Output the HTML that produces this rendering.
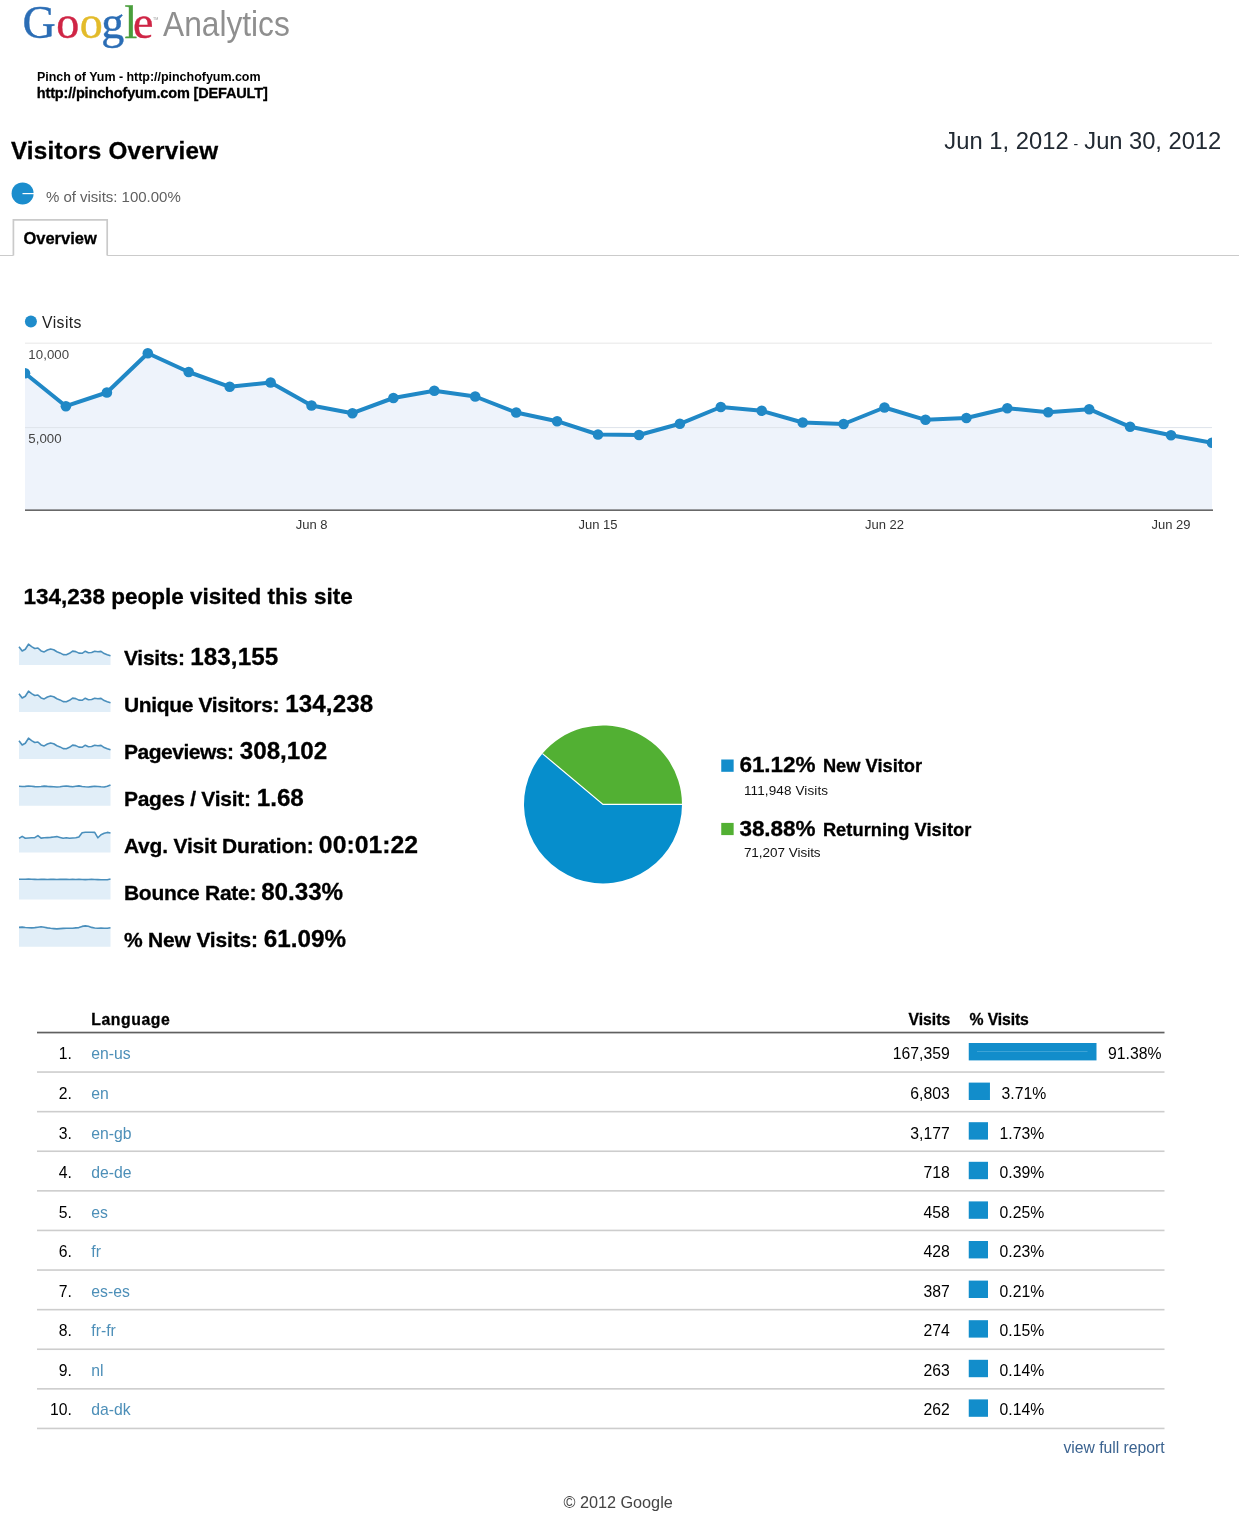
<!DOCTYPE html>
<html lang="en"><head><meta charset="utf-8"><title>Visitors Overview - Google Analytics</title>
<style>
html,body{margin:0;padding:0;background:#fff}
body{width:1239px;height:1515px;position:relative;overflow:hidden;font-family:"Liberation Sans",Arial,Helvetica,sans-serif;color:#000}
.t{position:absolute;white-space:pre;line-height:1}
.abs{position:absolute}
.logo{font-family:"Liberation Serif","Times New Roman",serif}
</style></head><body>
<header>
<!-- logo -->
<div class="t logo" style="left:22.6px;top:0.4px;font-size:46px;-webkit-text-stroke:0.4px currentColor"><span style="color:#2b6db5;letter-spacing:0.35px">G</span><span style="color:#cf2545;letter-spacing:0.45px">o</span><span style="color:#e3bb2a;letter-spacing:-1.45px">o</span><span style="color:#2b6db5;letter-spacing:0.35px">g</span><span style="color:#4a9e3c;letter-spacing:-4.4px">l</span><span style="color:#cf2545">e</span></div>
<span class="t" style="left:153px;top:17.8px;font-size:3.6px;color:#999">TM</span>
<span class="t" style="left:163px;top:10.3px;font-size:31.7px;color:#8f8f8f;transform:scaleY(1.09);transform-origin:0 26.58px">Analytics</span>
<!-- profile / report title / date range / segment / tab -->
<svg class="abs" style="left:8px;top:180px" width="30" height="26" viewBox="8 180 30 26"><circle cx="22.6" cy="193.4" r="11" fill="#1b8dcd"/><rect x="22.5" y="193" width="11.5" height="1.2" fill="#fff"/></svg>
<div class="abs" style="left:0;top:254.9px;width:1239px;height:1.5px;background:#cbcbcb"></div>
<svg class="abs" style="left:0;top:210px" width="130" height="50" viewBox="0 210 130 50"><path d="M13.4,256.6 L13.4,219.9 L107.2,219.9 L107.2,256.3 Z" fill="#fff"/><path d="M13.4,255.6 L13.4,219.9 L107.2,219.9 L107.2,255.6" fill="none" stroke="#cacaca" stroke-width="1.7"/></svg>
<span class="t" style="left:36.90px;top:70.50px;font-size:12.5px;font-weight:700;letter-spacing:-0.031px;">Pinch of Yum - http://pinchofyum.com</span>
<span class="t" style="left:36.77px;top:86.00px;font-size:14.5px;font-weight:700;-webkit-text-stroke:0.3px;letter-spacing:-0.159px;">http://pinchofyum.com [DEFAULT]</span>
<span class="t" style="left:10.88px;top:139.00px;font-size:24.25px;font-weight:700;-webkit-text-stroke:0.3px;letter-spacing:0.260px;">Visitors Overview</span>
<span class="t" style="left:944.34px;top:129.25px;font-size:23.75px;color:#222a33;letter-spacing:0.021px;">Jun 1, 2012</span>
<span class="t" style="left:1073.50px;top:137.25px;font-size:14px;color:#222a33;">-</span>
<span class="t" style="left:1084.34px;top:129.25px;font-size:23.75px;color:#222a33;letter-spacing:-0.046px;">Jun 30, 2012</span>
<span class="t" style="left:45.95px;top:189.00px;font-size:15px;color:#606060;letter-spacing:-0.015px;">% of visits: 100.00%</span>
<span class="t" style="left:23.44px;top:229.80px;font-size:16.5px;font-weight:700;-webkit-text-stroke:0.3px;letter-spacing:-0.009px;">Overview</span>
</header>
<main>
<section id="visits-chart">
<svg class="abs" style="left:0;top:300px" width="1239" height="230" viewBox="0 300 1239 230">
<defs><clipPath id="cc"><rect x="25" y="330" width="1187" height="185"/></clipPath></defs>
<circle cx="30.9" cy="321.4" r="6" fill="#1f8ccb"/>
<g clip-path="url(#cc)">
<path d="M25.0,510 L25.0,373.2 L65.9,406.2 L106.9,392.5 L147.8,353.2 L188.7,372.0 L229.7,386.8 L270.6,382.5 L311.5,405.5 L352.4,413.2 L393.4,398.0 L434.3,390.8 L475.2,396.5 L516.2,412.5 L557.1,421.2 L598.0,434.5 L639.0,435.0 L679.9,423.8 L720.8,407.0 L761.7,410.8 L802.7,422.5 L843.6,424.0 L884.5,407.5 L925.5,419.8 L966.4,418.0 L1007.3,408.2 L1048.2,412.2 L1089.2,409.2 L1130.1,426.8 L1171.0,435.2 L1212.0,442.8 L1212.0,510 Z" fill="#eef3fb"/>
<rect x="25" y="342.6" width="1188" height="1.2" fill="#ebebeb"/>
<rect x="25" y="427" width="1188" height="1.1" fill="#e0e5ec"/>
<polyline points="25.0,373.2 65.9,406.2 106.9,392.5 147.8,353.2 188.7,372.0 229.7,386.8 270.6,382.5 311.5,405.5 352.4,413.2 393.4,398.0 434.3,390.8 475.2,396.5 516.2,412.5 557.1,421.2 598.0,434.5 639.0,435.0 679.9,423.8 720.8,407.0 761.7,410.8 802.7,422.5 843.6,424.0 884.5,407.5 925.5,419.8 966.4,418.0 1007.3,408.2 1048.2,412.2 1089.2,409.2 1130.1,426.8 1171.0,435.2 1212.0,442.8" fill="none" stroke="#2088c6" stroke-width="4" stroke-linejoin="round"/>
<g fill="#2088c6"><circle cx="25.0" cy="373.2" r="5.3"/><circle cx="65.9" cy="406.2" r="5.3"/><circle cx="106.9" cy="392.5" r="5.3"/><circle cx="147.8" cy="353.2" r="5.3"/><circle cx="188.7" cy="372.0" r="5.3"/><circle cx="229.7" cy="386.8" r="5.3"/><circle cx="270.6" cy="382.5" r="5.3"/><circle cx="311.5" cy="405.5" r="5.3"/><circle cx="352.4" cy="413.2" r="5.3"/><circle cx="393.4" cy="398.0" r="5.3"/><circle cx="434.3" cy="390.8" r="5.3"/><circle cx="475.2" cy="396.5" r="5.3"/><circle cx="516.2" cy="412.5" r="5.3"/><circle cx="557.1" cy="421.2" r="5.3"/><circle cx="598.0" cy="434.5" r="5.3"/><circle cx="639.0" cy="435.0" r="5.3"/><circle cx="679.9" cy="423.8" r="5.3"/><circle cx="720.8" cy="407.0" r="5.3"/><circle cx="761.7" cy="410.8" r="5.3"/><circle cx="802.7" cy="422.5" r="5.3"/><circle cx="843.6" cy="424.0" r="5.3"/><circle cx="884.5" cy="407.5" r="5.3"/><circle cx="925.5" cy="419.8" r="5.3"/><circle cx="966.4" cy="418.0" r="5.3"/><circle cx="1007.3" cy="408.2" r="5.3"/><circle cx="1048.2" cy="412.2" r="5.3"/><circle cx="1089.2" cy="409.2" r="5.3"/><circle cx="1130.1" cy="426.8" r="5.3"/><circle cx="1171.0" cy="435.2" r="5.3"/><circle cx="1212.0" cy="442.8" r="5.3"/></g>
</g>
<rect x="25" y="509.5" width="1188" height="1.3" fill="#444"/>
</svg>
<span class="t" style="left:42.00px;top:314.60px;font-size:15.75px;color:#222;letter-spacing:0.428px;">Visits</span>
<span class="t" style="left:28.35px;top:347.75px;font-size:13.25px;color:#444;letter-spacing:0.054px;">10,000</span>
<span class="t" style="left:28.35px;top:432.00px;font-size:13.25px;color:#444;letter-spacing:0.032px;">5,000</span>
<span class="t" style="left:295.79px;top:518.00px;font-size:13px;color:#333;">Jun 8</span>
<span class="t" style="left:578.48px;top:518.00px;font-size:13px;color:#333;">Jun 15</span>
<span class="t" style="left:864.98px;top:518.00px;font-size:13px;color:#333;">Jun 22</span>
<span class="t" style="left:1151.48px;top:518.00px;font-size:13px;color:#333;">Jun 29</span>
</section>
<section id="metrics">
<svg class="abs" style="left:0;top:630px" width="130" height="330" viewBox="0 630 130 330"><path d="M19,665 L19.0,646.8 L22.2,651.0 L25.3,649.2 L28.5,644.2 L31.6,646.6 L34.8,648.5 L37.9,648.0 L41.1,650.9 L44.2,651.9 L47.4,650.0 L50.6,649.0 L53.7,649.8 L56.9,651.8 L60.0,652.9 L63.2,654.6 L66.3,654.7 L69.5,653.3 L72.6,651.1 L75.8,651.6 L78.9,653.1 L82.1,653.3 L85.3,651.2 L88.4,652.7 L91.6,652.5 L94.7,651.3 L97.9,651.8 L101.0,651.4 L104.2,653.6 L107.3,654.7 L110.5,655.7 L110.5,665 Z" fill="#e1eef8"/><polyline points="19.0,646.8 22.2,651.0 25.3,649.2 28.5,644.2 31.6,646.6 34.8,648.5 37.9,648.0 41.1,650.9 44.2,651.9 47.4,650.0 50.6,649.0 53.7,649.8 56.9,651.8 60.0,652.9 63.2,654.6 66.3,654.7 69.5,653.3 72.6,651.1 75.8,651.6 78.9,653.1 82.1,653.3 85.3,651.2 88.4,652.7 91.6,652.5 94.7,651.3 97.9,651.8 101.0,651.4 104.2,653.6 107.3,654.7 110.5,655.7" fill="none" stroke="#4a8fbc" stroke-width="1.6" stroke-linejoin="round"/><path d="M19,712 L19.0,693.8 L22.2,698.0 L25.3,696.2 L28.5,691.2 L31.6,693.6 L34.8,695.5 L37.9,695.0 L41.1,697.9 L44.2,698.9 L47.4,697.0 L50.6,696.0 L53.7,696.8 L56.9,698.8 L60.0,699.9 L63.2,701.6 L66.3,701.7 L69.5,700.3 L72.6,698.1 L75.8,698.6 L78.9,700.1 L82.1,700.3 L85.3,698.2 L88.4,699.7 L91.6,699.5 L94.7,698.3 L97.9,698.8 L101.0,698.4 L104.2,700.6 L107.3,701.7 L110.5,702.7 L110.5,712 Z" fill="#e1eef8"/><polyline points="19.0,693.8 22.2,698.0 25.3,696.2 28.5,691.2 31.6,693.6 34.8,695.5 37.9,695.0 41.1,697.9 44.2,698.9 47.4,697.0 50.6,696.0 53.7,696.8 56.9,698.8 60.0,699.9 63.2,701.6 66.3,701.7 69.5,700.3 72.6,698.1 75.8,698.6 78.9,700.1 82.1,700.3 85.3,698.2 88.4,699.7 91.6,699.5 94.7,698.3 97.9,698.8 101.0,698.4 104.2,700.6 107.3,701.7 110.5,702.7" fill="none" stroke="#4a8fbc" stroke-width="1.6" stroke-linejoin="round"/><path d="M19,759 L19.0,740.8 L22.2,745.0 L25.3,743.2 L28.5,738.2 L31.6,740.6 L34.8,742.5 L37.9,742.0 L41.1,744.9 L44.2,745.9 L47.4,744.0 L50.6,743.0 L53.7,743.8 L56.9,745.8 L60.0,746.9 L63.2,748.6 L66.3,748.7 L69.5,747.3 L72.6,745.1 L75.8,745.6 L78.9,747.1 L82.1,747.3 L85.3,745.2 L88.4,746.7 L91.6,746.5 L94.7,745.3 L97.9,745.8 L101.0,745.4 L104.2,747.6 L107.3,748.7 L110.5,749.7 L110.5,759 Z" fill="#e1eef8"/><polyline points="19.0,740.8 22.2,745.0 25.3,743.2 28.5,738.2 31.6,740.6 34.8,742.5 37.9,742.0 41.1,744.9 44.2,745.9 47.4,744.0 50.6,743.0 53.7,743.8 56.9,745.8 60.0,746.9 63.2,748.6 66.3,748.7 69.5,747.3 72.6,745.1 75.8,745.6 78.9,747.1 82.1,747.3 85.3,745.2 88.4,746.7 91.6,746.5 94.7,745.3 97.9,745.8 101.0,745.4 104.2,747.6 107.3,748.7 110.5,749.7" fill="none" stroke="#4a8fbc" stroke-width="1.6" stroke-linejoin="round"/><path d="M19,805.8 L19.0,786.2 L22.2,786.5 L25.3,786.4 L28.5,786.0 L31.6,786.2 L34.8,786.6 L37.9,786.7 L41.1,786.5 L44.2,786.1 L47.4,786.4 L50.6,786.6 L53.7,786.8 L56.9,787.0 L60.0,786.7 L63.2,786.3 L66.3,786.0 L69.5,786.4 L72.6,786.7 L75.8,786.2 L78.9,785.9 L82.1,786.5 L85.3,786.8 L88.4,787.0 L91.6,786.6 L94.7,786.2 L97.9,786.5 L101.0,786.8 L104.2,787.0 L107.3,786.2 L110.5,785.0 L110.5,805.8 Z" fill="#e1eef8"/><polyline points="19.0,786.2 22.2,786.5 25.3,786.4 28.5,786.0 31.6,786.2 34.8,786.6 37.9,786.7 41.1,786.5 44.2,786.1 47.4,786.4 50.6,786.6 53.7,786.8 56.9,787.0 60.0,786.7 63.2,786.3 66.3,786.0 69.5,786.4 72.6,786.7 75.8,786.2 78.9,785.9 82.1,786.5 85.3,786.8 88.4,787.0 91.6,786.6 94.7,786.2 97.9,786.5 101.0,786.8 104.2,787.0 107.3,786.2 110.5,785.0" fill="none" stroke="#4a8fbc" stroke-width="1.6" stroke-linejoin="round"/><path d="M19,852.6 L19.0,838.4 L22.2,836.4 L25.3,838.2 L28.5,838.0 L31.6,837.8 L34.8,837.6 L37.9,835.6 L41.1,838.1 L44.2,837.8 L47.4,837.6 L50.6,837.4 L53.7,837.0 L56.9,836.6 L60.0,837.4 L63.2,838.2 L66.3,837.8 L69.5,838.3 L72.6,838.0 L75.8,837.7 L78.9,837.0 L82.1,832.7 L85.3,832.2 L88.4,832.2 L91.6,832.2 L94.7,832.4 L97.9,837.8 L101.0,834.7 L104.2,833.2 L107.3,832.4 L110.5,833.0 L110.5,852.6 Z" fill="#e1eef8"/><polyline points="19.0,838.4 22.2,836.4 25.3,838.2 28.5,838.0 31.6,837.8 34.8,837.6 37.9,835.6 41.1,838.1 44.2,837.8 47.4,837.6 50.6,837.4 53.7,837.0 56.9,836.6 60.0,837.4 63.2,838.2 66.3,837.8 69.5,838.3 72.6,838.0 75.8,837.7 78.9,837.0 82.1,832.7 85.3,832.2 88.4,832.2 91.6,832.2 94.7,832.4 97.9,837.8 101.0,834.7 104.2,833.2 107.3,832.4 110.5,833.0" fill="none" stroke="#4a8fbc" stroke-width="1.6" stroke-linejoin="round"/><path d="M19,899.6 L19.0,879.2 L22.2,879.3 L25.3,879.2 L28.5,879.1 L31.6,879.3 L34.8,879.4 L37.9,879.5 L41.1,879.4 L44.2,879.3 L47.4,879.5 L50.6,879.4 L53.7,879.3 L56.9,879.5 L60.0,879.4 L63.2,879.4 L66.3,879.3 L69.5,879.5 L72.6,879.4 L75.8,879.5 L78.9,879.4 L82.1,879.5 L85.3,879.6 L88.4,879.5 L91.6,879.4 L94.7,879.5 L97.9,879.6 L101.0,879.7 L104.2,879.8 L107.3,879.7 L110.5,879.0 L110.5,899.6 Z" fill="#e1eef8"/><polyline points="19.0,879.2 22.2,879.3 25.3,879.2 28.5,879.1 31.6,879.3 34.8,879.4 37.9,879.5 41.1,879.4 44.2,879.3 47.4,879.5 50.6,879.4 53.7,879.3 56.9,879.5 60.0,879.4 63.2,879.4 66.3,879.3 69.5,879.5 72.6,879.4 75.8,879.5 78.9,879.4 82.1,879.5 85.3,879.6 88.4,879.5 91.6,879.4 94.7,879.5 97.9,879.6 101.0,879.7 104.2,879.8 107.3,879.7 110.5,879.0" fill="none" stroke="#4a8fbc" stroke-width="1.6" stroke-linejoin="round"/><path d="M19,946.8 L19.0,927.4 L22.2,927.1 L25.3,927.5 L28.5,927.8 L31.6,927.9 L34.8,927.6 L37.9,927.2 L41.1,926.8 L44.2,927.2 L47.4,927.9 L50.6,928.3 L53.7,928.6 L56.9,928.9 L60.0,928.6 L63.2,928.4 L66.3,928.2 L69.5,928.3 L72.6,928.2 L75.8,927.9 L78.9,927.6 L82.1,926.4 L85.3,925.9 L88.4,926.2 L91.6,927.4 L94.7,928.0 L97.9,928.2 L101.0,928.1 L104.2,928.3 L107.3,928.3 L110.5,927.8 L110.5,946.8 Z" fill="#e1eef8"/><polyline points="19.0,927.4 22.2,927.1 25.3,927.5 28.5,927.8 31.6,927.9 34.8,927.6 37.9,927.2 41.1,926.8 44.2,927.2 47.4,927.9 50.6,928.3 53.7,928.6 56.9,928.9 60.0,928.6 63.2,928.4 66.3,928.2 69.5,928.3 72.6,928.2 75.8,927.9 78.9,927.6 82.1,926.4 85.3,925.9 88.4,926.2 91.6,927.4 94.7,928.0 97.9,928.2 101.0,928.1 104.2,928.3 107.3,928.3 110.5,927.8" fill="none" stroke="#4a8fbc" stroke-width="1.6" stroke-linejoin="round"/></svg>
<span class="t" style="left:23.50px;top:585.60px;font-size:22.5px;font-weight:700;-webkit-text-stroke:0.3px;letter-spacing:0.010px;">134,238 people visited this site</span>
<span class="t" style="left:123.95px;top:646.50px;font-size:21px;font-weight:700;-webkit-text-stroke:0.3px;letter-spacing:-0.259px;">Visits:</span>
<span class="t" style="left:190.35px;top:644.50px;font-size:24.25px;font-weight:700;-webkit-text-stroke:0.3px;letter-spacing:0.023px;">183,155</span>
<span class="t" style="left:123.95px;top:693.50px;font-size:21px;font-weight:700;-webkit-text-stroke:0.3px;letter-spacing:-0.336px;">Unique Visitors:</span>
<span class="t" style="left:285.35px;top:691.50px;font-size:24.25px;font-weight:700;-webkit-text-stroke:0.3px;letter-spacing:0.023px;">134,238</span>
<span class="t" style="left:123.95px;top:740.50px;font-size:21px;font-weight:700;-webkit-text-stroke:0.3px;letter-spacing:-0.478px;">Pageviews:</span>
<span class="t" style="left:239.85px;top:738.50px;font-size:24.25px;font-weight:700;-webkit-text-stroke:0.3px;letter-spacing:-0.060px;">308,102</span>
<span class="t" style="left:123.95px;top:787.50px;font-size:21px;font-weight:700;-webkit-text-stroke:0.3px;letter-spacing:-0.250px;">Pages / Visit:</span>
<span class="t" style="left:256.85px;top:785.50px;font-size:24.25px;font-weight:700;-webkit-text-stroke:0.3px;letter-spacing:-0.066px;">1.68</span>
<span class="t" style="left:123.95px;top:834.50px;font-size:21px;font-weight:700;-webkit-text-stroke:0.3px;letter-spacing:-0.205px;">Avg. Visit Duration:</span>
<span class="t" style="left:318.85px;top:832.50px;font-size:24.75px;font-weight:700;-webkit-text-stroke:0.3px;letter-spacing:0.031px;">00:01:22</span>
<span class="t" style="left:123.95px;top:881.50px;font-size:21px;font-weight:700;-webkit-text-stroke:0.3px;letter-spacing:-0.251px;">Bounce Rate:</span>
<span class="t" style="left:261.15px;top:879.50px;font-size:24.25px;font-weight:700;-webkit-text-stroke:0.3px;letter-spacing:-0.051px;">80.33%</span>
<span class="t" style="left:123.95px;top:928.50px;font-size:21px;font-weight:700;-webkit-text-stroke:0.3px;letter-spacing:-0.173px;">% New Visits:</span>
<span class="t" style="left:263.85px;top:926.50px;font-size:24.25px;font-weight:700;-webkit-text-stroke:0.3px;letter-spacing:0.009px;">61.09%</span>
</section>
<section id="visitor-types">
<svg class="abs" style="left:510px;top:715px" width="190" height="180" viewBox="510 715 190 180">
<path d="M603.0,804.4 L682.0,804.4 A79.0,79.0 0 1 1 542.48,753.62 Z" fill="#068ecc"/>
<path d="M603.0,804.4 L542.48,753.62 A79.0,79.0 0 0 1 682.0,804.4 Z" fill="#52b033"/>
<path d="M682.0,804.4 L603.0,804.4 L542.48,753.62" fill="none" stroke="#fff" stroke-width="1.2"/>
</svg>
<svg class="abs" style="left:715px;top:755px" width="25" height="85" viewBox="715 755 25 85"><rect x="721.25" y="759.5" width="12.4" height="12.3" fill="#128dcb"/><rect x="721.25" y="822.9" width="12.4" height="12.2" fill="#52b033"/></svg>
<span class="t" style="left:739.42px;top:754.00px;font-size:22.5px;font-weight:700;-webkit-text-stroke:0.3px;letter-spacing:-0.033px;">61.12%</span>
<span class="t" style="left:822.88px;top:757.00px;font-size:18.25px;font-weight:700;-webkit-text-stroke:0.3px;letter-spacing:0.018px;">New Visitor</span>
<span class="t" style="left:743.88px;top:783.50px;font-size:13.5px;color:#111;letter-spacing:0.129px;">111,948 Visits</span>
<span class="t" style="left:739.42px;top:817.50px;font-size:22.5px;font-weight:700;-webkit-text-stroke:0.3px;letter-spacing:-0.033px;">38.88%</span>
<span class="t" style="left:822.88px;top:820.50px;font-size:18.25px;font-weight:700;-webkit-text-stroke:0.3px;letter-spacing:0.049px;">Returning Visitor</span>
<span class="t" style="left:743.88px;top:846.00px;font-size:13.5px;color:#111;letter-spacing:-0.027px;">71,207 Visits</span>
</section>
<section id="language-table">
<svg class="abs" style="left:30px;top:1025px" width="1140" height="410" viewBox="30 1025 1140 410"><rect x="37" y="1031.7" width="1127.5" height="1.7" fill="#606060"/><g fill="#cdcdcd"><rect x="37" y="1071.25" width="1127.5" height="1.6"/><rect x="37" y="1110.85" width="1127.5" height="1.6"/><rect x="37" y="1150.45" width="1127.5" height="1.6"/><rect x="37" y="1190.05" width="1127.5" height="1.6"/><rect x="37" y="1229.65" width="1127.5" height="1.6"/><rect x="37" y="1269.25" width="1127.5" height="1.6"/><rect x="37" y="1308.85" width="1127.5" height="1.6"/><rect x="37" y="1348.45" width="1127.5" height="1.6"/><rect x="37" y="1388.05" width="1127.5" height="1.6"/><rect x="37" y="1427.65" width="1127.5" height="1.6"/></g></svg>
<svg class="abs" style="left:960px;top:1035px" width="150" height="390" viewBox="960 1035 150 390"><g fill="#128dcb"><rect x="968.75" y="1043.00" width="127.75" height="17.40"/><rect x="968.75" y="1082.60" width="21.20" height="17.40"/><rect x="968.75" y="1122.20" width="19.25" height="17.40"/><rect x="968.75" y="1161.80" width="19.25" height="17.40"/><rect x="968.75" y="1201.40" width="19.25" height="17.40"/><rect x="968.75" y="1241.00" width="19.25" height="17.40"/><rect x="968.75" y="1280.60" width="19.25" height="17.40"/><rect x="968.75" y="1320.20" width="19.25" height="17.40"/><rect x="968.75" y="1359.80" width="19.25" height="17.40"/><rect x="968.75" y="1399.40" width="19.25" height="17.40"/></g><rect x="977" y="1051" width="110.5" height="0.8" fill="#49a9d9"/></svg>
<span class="t" style="left:91.30px;top:1012.00px;font-size:15.75px;font-weight:700;-webkit-text-stroke:0.3px;letter-spacing:0.587px;">Language</span>
<span class="t" style="left:908.45px;top:1012.00px;font-size:15.75px;font-weight:700;-webkit-text-stroke:0.3px;">Visits</span>
<span class="t" style="left:969.51px;top:1012.00px;font-size:15.75px;font-weight:700;-webkit-text-stroke:0.3px;letter-spacing:-0.121px;">% Visits</span>
<span class="t" style="left:58.76px;top:1046.45px;font-size:15.75px;">1.</span>
<span class="t" style="left:91.30px;top:1046.45px;font-size:15.75px;color:#4d8fb8;">en-us</span>
<span class="t" style="left:892.76px;top:1046.45px;font-size:15.75px;">167,359</span>
<span class="t" style="left:1108.10px;top:1046.45px;font-size:15.75px;">91.38%</span>
<span class="t" style="left:58.76px;top:1086.00px;font-size:15.75px;">2.</span>
<span class="t" style="left:91.30px;top:1086.00px;font-size:15.75px;color:#4d8fb8;">en</span>
<span class="t" style="left:910.28px;top:1086.00px;font-size:15.75px;">6,803</span>
<span class="t" style="left:1001.55px;top:1086.00px;font-size:15.75px;">3.71%</span>
<span class="t" style="left:58.76px;top:1125.55px;font-size:15.75px;">3.</span>
<span class="t" style="left:91.30px;top:1125.55px;font-size:15.75px;color:#4d8fb8;">en-gb</span>
<span class="t" style="left:910.28px;top:1125.55px;font-size:15.75px;">3,177</span>
<span class="t" style="left:999.60px;top:1125.55px;font-size:15.75px;">1.73%</span>
<span class="t" style="left:58.76px;top:1165.10px;font-size:15.75px;">4.</span>
<span class="t" style="left:91.30px;top:1165.10px;font-size:15.75px;color:#4d8fb8;">de-de</span>
<span class="t" style="left:923.42px;top:1165.10px;font-size:15.75px;">718</span>
<span class="t" style="left:999.60px;top:1165.10px;font-size:15.75px;">0.39%</span>
<span class="t" style="left:58.76px;top:1204.65px;font-size:15.75px;">5.</span>
<span class="t" style="left:91.30px;top:1204.65px;font-size:15.75px;color:#4d8fb8;">es</span>
<span class="t" style="left:923.42px;top:1204.65px;font-size:15.75px;">458</span>
<span class="t" style="left:999.60px;top:1204.65px;font-size:15.75px;">0.25%</span>
<span class="t" style="left:58.76px;top:1244.20px;font-size:15.75px;">6.</span>
<span class="t" style="left:91.30px;top:1244.20px;font-size:15.75px;color:#4d8fb8;">fr</span>
<span class="t" style="left:923.42px;top:1244.20px;font-size:15.75px;">428</span>
<span class="t" style="left:999.60px;top:1244.20px;font-size:15.75px;">0.23%</span>
<span class="t" style="left:58.76px;top:1283.75px;font-size:15.75px;">7.</span>
<span class="t" style="left:91.30px;top:1283.75px;font-size:15.75px;color:#4d8fb8;">es-es</span>
<span class="t" style="left:923.42px;top:1283.75px;font-size:15.75px;">387</span>
<span class="t" style="left:999.60px;top:1283.75px;font-size:15.75px;">0.21%</span>
<span class="t" style="left:58.76px;top:1323.30px;font-size:15.75px;">8.</span>
<span class="t" style="left:91.30px;top:1323.30px;font-size:15.75px;color:#4d8fb8;">fr-fr</span>
<span class="t" style="left:923.42px;top:1323.30px;font-size:15.75px;">274</span>
<span class="t" style="left:999.60px;top:1323.30px;font-size:15.75px;">0.15%</span>
<span class="t" style="left:58.76px;top:1362.85px;font-size:15.75px;">9.</span>
<span class="t" style="left:91.30px;top:1362.85px;font-size:15.75px;color:#4d8fb8;">nl</span>
<span class="t" style="left:923.42px;top:1362.85px;font-size:15.75px;">263</span>
<span class="t" style="left:999.60px;top:1362.85px;font-size:15.75px;">0.14%</span>
<span class="t" style="left:49.99px;top:1402.40px;font-size:15.75px;">10.</span>
<span class="t" style="left:91.30px;top:1402.40px;font-size:15.75px;color:#4d8fb8;">da-dk</span>
<span class="t" style="left:923.42px;top:1402.40px;font-size:15.75px;">262</span>
<span class="t" style="left:999.60px;top:1402.40px;font-size:15.75px;">0.14%</span>
</section>
</main>
<footer>
<span class="t" style="left:1063.47px;top:1440.00px;font-size:15.75px;color:#3b6390;letter-spacing:-0.033px;">view full report</span>
<span class="t" style="left:563.52px;top:1494.40px;font-size:16.25px;color:#444;letter-spacing:-0.026px;">© 2012 Google</span>
</footer>
</body></html>
